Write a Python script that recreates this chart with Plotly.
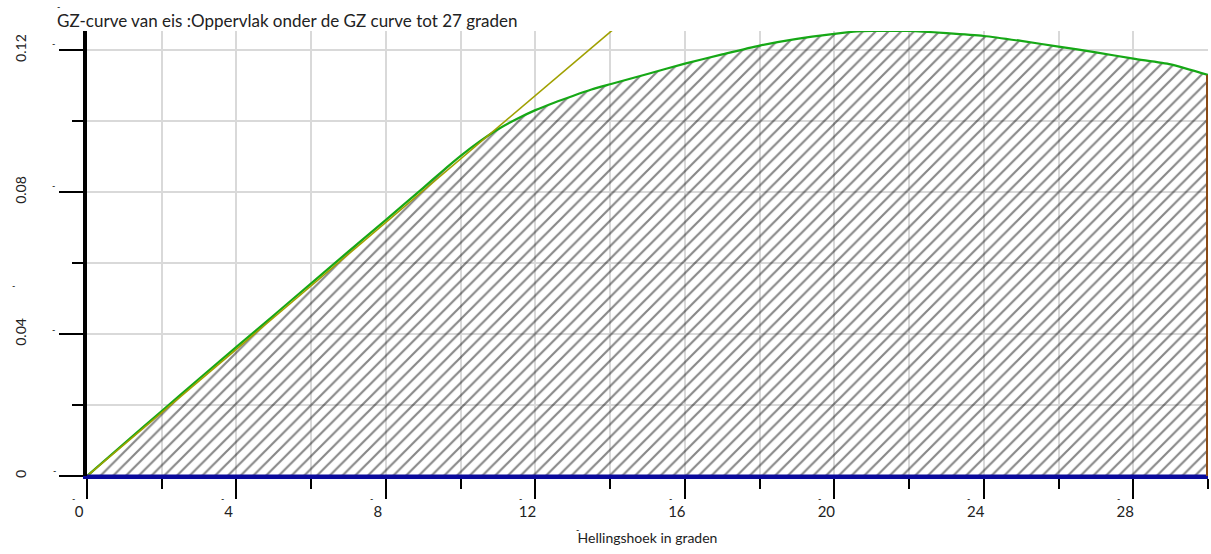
import plotly.graph_objects as go

# ---- data ----
angles = [0, 1, 2, 3, 4, 5, 6, 7, 8, 9, 9.5, 10, 10.5, 11, 11.5, 12, 12.5, 13, 13.5, 14, 15, 16,
          17, 18, 19, 20, 20.6, 21, 22, 23, 24, 25, 26, 27, 28, 29, 30]
gz = [0, 0.0092, 0.0183, 0.0274, 0.0364, 0.0453, 0.0543, 0.0633, 0.0722, 0.0812, 0.0858, 0.0902,
      0.0942, 0.0977, 0.1006, 0.1031, 0.1052, 0.1071, 0.1089, 0.1104, 0.1133, 0.1162, 0.1188,
      0.1213, 0.1232, 0.1246, 0.1253, 0.1254, 0.1254, 0.1248, 0.1240, 0.1226, 0.1210, 0.1194,
      0.1176, 0.1160, 0.1130]
tangent_x = [0, 57.3]     # 1 radian
tangent_y = [0, 0.512]    # GM
base_x = [0, 30]
base_y = [0, 0]
limit_x = [30, 30]
limit_y = [0, gz[-1]]
x_ticks = [0, 4, 8, 12, 16, 20, 24, 28]
y_ticks = [0, 0.04, 0.08, 0.12]

title_text = "GZ-curve van eis :Oppervlak onder de GZ curve tot 27 graden"
x_title = "Hellingshoek in graden"

FONT = "Lato"
TXT = "#222222"

fig = go.Figure()

fig.add_trace(go.Scatter(
    x=angles, y=gz, mode="lines",
    line=dict(color="#16a816", width=2.2, shape="spline", smoothing=0.6),
    fill="tozeroy",
    fillpattern=dict(shape="/", fgcolor="#111111", bgcolor="rgba(255,255,255,0)",
                     size=9, solidity=0.24),
    fillcolor="rgba(255,255,255,0)",
    hoverinfo="skip", showlegend=False))

fig.add_trace(go.Scatter(
    x=tangent_x, y=tangent_y, mode="lines",
    line=dict(color="#a0a000", width=1.6),
    showlegend=False, hoverinfo="skip"))

fig.add_trace(go.Scatter(
    x=base_x, y=base_y, mode="lines",
    line=dict(color="#0a0a9c", width=3),
    showlegend=False, hoverinfo="skip"))

fig.add_trace(go.Scatter(
    x=limit_x, y=limit_y, mode="lines",
    line=dict(color="#8b4a14", width=4),
    showlegend=False, hoverinfo="skip"))

# small dash marks seen next to the texts of the original
L, R, T, B = 87, 1208, 31, 476


def px2paper(px, py):
    return (px - L) / (R - L), (B - py) / (B - T)


dash_pts = [(58, 6), (53, 43), (53, 186), (53, 329), (54, 470), (13, 285),
            (73, 498), (222, 498), (371, 498), (520, 498), (670, 498), (819, 498),
            (968, 498), (1118, 498), (577, 529)]
annotations = []
for (px, py) in dash_pts:
    ax_, ay_ = px2paper(px, py)
    annotations.append(dict(x=ax_, y=ay_, xref="paper", yref="paper", text="-",
                            showarrow=False, font=dict(family=FONT, size=9, color="black"),
                            xanchor="center", yanchor="middle"))

fig.update_layout(
    width=1211, height=554,
    margin=dict(l=L, r=1211 - R, t=T, b=554 - B, pad=0),
    paper_bgcolor="white", plot_bgcolor="white",
    showlegend=False,
    title=dict(text=title_text, font=dict(family=FONT, size=17, color=TXT),
               xref="container", yref="container",
               x=57 / 1211, xanchor="left", y=1 - 21 / 554, yanchor="middle"),
    annotations=annotations,
    font=dict(family=FONT, color=TXT),
)

fig.update_xaxes(
    range=[0, 30], tickvals=x_ticks, ticktext=[str(v) for v in x_ticks],
    ticks="outside", ticklen=20, tickwidth=2, tickcolor="black",
    showline=True, linecolor="#0a0a9c", linewidth=3,
    showgrid=True, gridcolor="#d9d9d9", gridwidth=1.5,
    zeroline=False,
    minor=dict(dtick=2, tick0=0, ticks="outside", ticklen=10, tickwidth=2, tickcolor="black",
               showgrid=True, gridcolor="#d9d9d9", gridwidth=1.5),
    tickfont=dict(family=FONT, size=15, color=TXT),
    ticklabelshift=-8,
    title=dict(text=x_title, font=dict(family=FONT, size=14, color=TXT), standoff=15),
    fixedrange=True,
)

fig.update_yaxes(
    range=[0, 0.1254], tickvals=y_ticks, ticktext=["0", "0.04", "0.08", "0.12"],
    ticks="outside", ticklen=24, tickwidth=2, tickcolor="black",
    showline=True, linecolor="black", linewidth=4,
    showgrid=True, gridcolor="#d9d9d9", gridwidth=1.5,
    zeroline=False,
    minor=dict(dtick=0.02, tick0=0, ticks="outside", ticklen=11, tickwidth=2, tickcolor="black",
               showgrid=True, gridcolor="#d9d9d9", gridwidth=1.5),
    tickfont=dict(family=FONT, size=14, color=TXT),
    tickangle=-90,
    ticklabelstandoff=27,
    fixedrange=True,
)

fig.write_html("out.html")
